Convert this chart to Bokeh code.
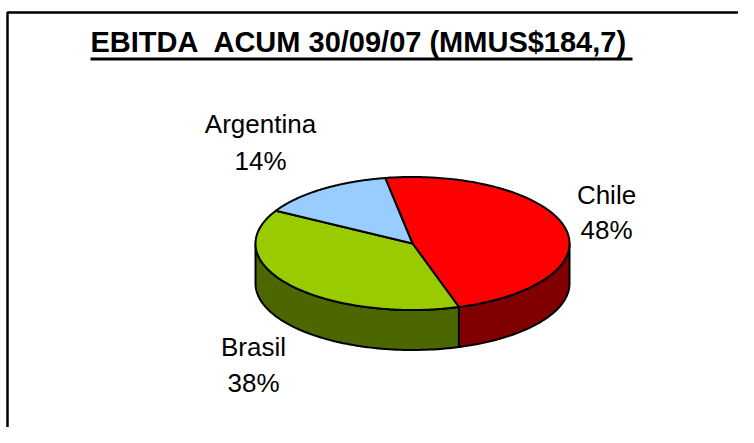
import numpy as np
from bokeh.plotting import figure
from bokeh.models import Range1d
from bokeh.core.properties import value
from bokeh.embed import file_html
from bokeh.resources import INLINE

# ---- data ----
regions = ["Chile", "Brasil", "Argentina"]
shares = [48, 38, 14]
title = "EBITDA\u00a0 ACUM 30/09/07 (MMUS$184,7)"

# ---- styles / layout ----
top_colors = ["#FF0000", "#99CC00", "#99CCFF"]
wall_colors = ["#800000", "#4C6600", "#4C6680"]
CX, CY, RX, RY, DEPTH, START = 412.0, 243.0, 157.0, 66.5, 40.0, 100.0
label_x = {"Chile": 606, "Brasil": 253, "Argentina": 260}
name_y = {"Chile": 194, "Brasil": 346, "Argentina": 123}
pct_y = {"Chile": 229, "Brasil": 382, "Argentina": 160}
FONT = value("Liberation Sans")

W, H = 738, 427
p = figure(width=W, height=H, output_backend="svg", toolbar_location=None,
           x_range=Range1d(0, W), y_range=Range1d(H, 0),
           min_border=0)
p.axis.visible = False
p.grid.visible = False
p.outline_line_color = None
p.background_fill_color = "white"
p.border_fill_color = "white"

# frame
p.line([7, 7, W + 5], [H + 5, 12, 12], line_color="black", line_width=2.5)


def pt(t, dy=0.0):
    r = np.radians(t)
    return CX + RX * np.cos(r), CY - RY * np.sin(r) + dy


total = float(sum(shares))
angles = []
cum = START
for s in shares:
    a0 = cum
    a1 = cum - s / total * 360.0
    angles.append((a1, a0))
    cum = a1

# side walls (front half visible)
wx, wy, wc = [], [], []
for (lo, hi), col in zip(angles, wall_colors):
    for k in (-720, -360, 0, 360):
        s = max(lo, 180 + k)
        e = min(hi, 360 + k)
        if s < e:
            t = np.linspace(s, e, 80)
            xt, yt = pt(t)
            xb, yb = pt(t[::-1], DEPTH)
            wx.append(list(np.concatenate([xt, xb])))
            wy.append(list(np.concatenate([yt, yb])))
            wc.append(col)
p.patches(wx, wy, fill_color=wc, line_color="black", line_width=2, line_join="round")

# top faces
tx, ty = [], []
for (lo, hi) in angles:
    t = np.linspace(hi, lo, 160)
    x, y = pt(t)
    tx.append([CX] + list(x))
    ty.append([CY] + list(y))
p.patches(tx, ty, fill_color=top_colors, line_color="black", line_width=2, line_join="round")

# labels
p.text(x=[label_x[r] for r in regions], y=[name_y[r] for r in regions], text=regions,
       text_font=FONT, text_font_size="26px", text_align="center",
       text_baseline="middle", text_color="black")
p.text(x=[label_x[r] for r in regions], y=[pct_y[r] for r in regions],
       text=[f"{v}%" for v in shares],
       text_font=FONT, text_font_size="26px", text_align="center",
       text_baseline="middle", text_color="black")

# title with underline
p.text(x=[90], y=[41], text=[title], text_font=FONT, text_font_style="bold",
       text_font_size="29px", text_align="left", text_baseline="middle",
       text_color="black")
p.line([90, 632], [58.5, 58.5], line_color="black", line_width=3)

open("out.html", "w").write(file_html(p, INLINE))
